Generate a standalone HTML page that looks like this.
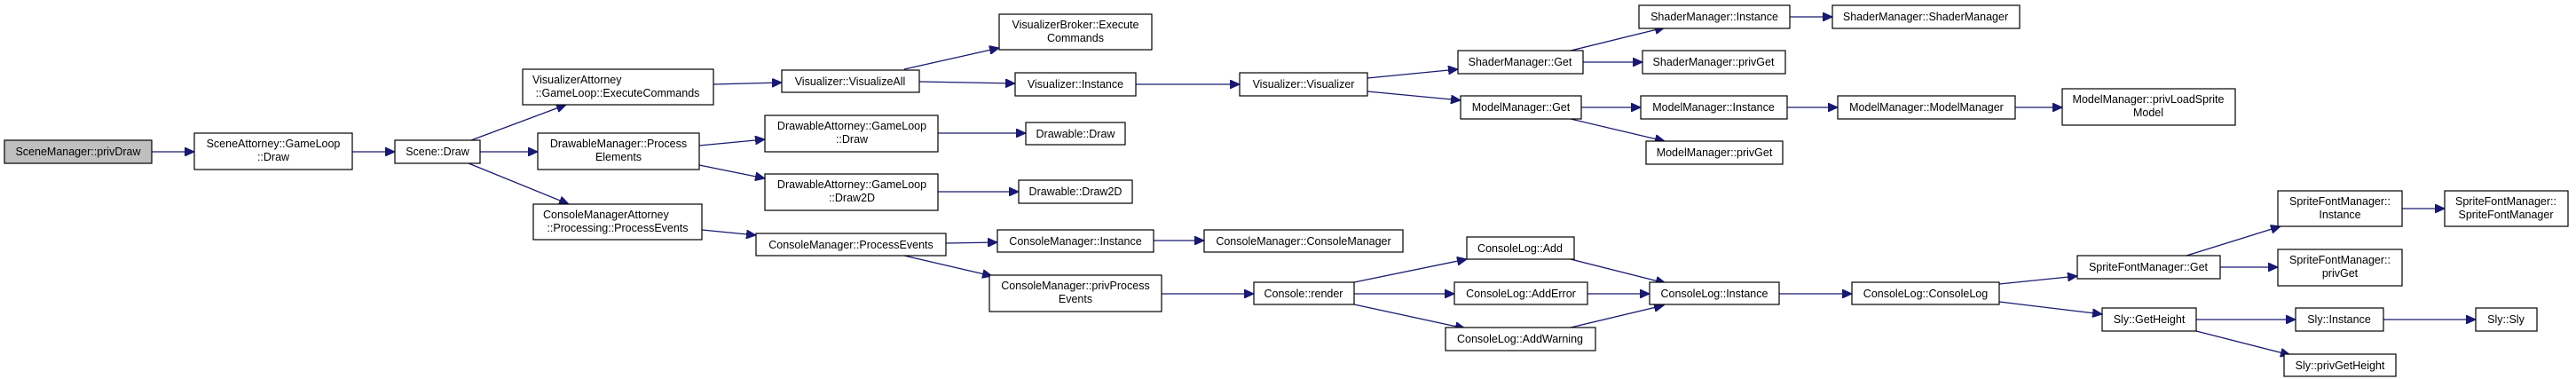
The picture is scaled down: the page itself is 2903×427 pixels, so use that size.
<!DOCTYPE html>
<html><head><meta charset="utf-8"><style>
html,body{margin:0;padding:0;background:#fff;}
svg{display:block;}
text{font-family:"Liberation Sans",Arial,sans-serif;font-size:12.5px;fill:#000;}
rect{fill:#fff;stroke:#000;stroke-width:1.2;}
line{stroke:#191970;stroke-width:1.3;}
</style></head><body>
<svg width="2903" height="427" viewBox="0 0 2903 427" xmlns="http://www.w3.org/2000/svg">
<defs><marker id="a" markerUnits="userSpaceOnUse" markerWidth="12" markerHeight="10" refX="11" refY="5" orient="auto"><path d="M0,0 L11,5 L0,10 Z" fill="#191970" stroke="#191970"/></marker></defs>
<g marker-end="url(#a)">
<line x1="171" y1="171" x2="219" y2="171"/>
<line x1="397" y1="171" x2="445" y2="171"/>
<line x1="531" y1="158" x2="638" y2="118"/>
<line x1="541" y1="171" x2="606" y2="171"/>
<line x1="528" y1="184" x2="641" y2="230"/>
<line x1="804" y1="95" x2="881" y2="93"/>
<line x1="788" y1="164" x2="862" y2="157"/>
<line x1="788" y1="186" x2="862" y2="201"/>
<line x1="791" y1="259" x2="852" y2="265"/>
<line x1="1019" y1="78" x2="1126" y2="54"/>
<line x1="1036" y1="92" x2="1144" y2="94"/>
<line x1="1280" y1="95" x2="1397" y2="95"/>
<line x1="1541" y1="88" x2="1643" y2="78"/>
<line x1="1541" y1="103" x2="1646" y2="113"/>
<line x1="1770" y1="57" x2="1876" y2="31"/>
<line x1="1784" y1="70" x2="1851" y2="70"/>
<line x1="1782" y1="121" x2="1849" y2="121"/>
<line x1="1770" y1="134" x2="1876" y2="159"/>
<line x1="1057" y1="150" x2="1156" y2="150"/>
<line x1="1057" y1="216" x2="1148" y2="216"/>
<line x1="1066" y1="274" x2="1124" y2="273"/>
<line x1="1019" y1="288" x2="1118" y2="311"/>
<line x1="1300" y1="271" x2="1357" y2="271"/>
<line x1="1309" y1="331" x2="1413" y2="331"/>
<line x1="1526" y1="318" x2="1653" y2="292"/>
<line x1="1526" y1="331" x2="1639" y2="331"/>
<line x1="1526" y1="343" x2="1651" y2="370"/>
<line x1="1770" y1="292" x2="1877" y2="319"/>
<line x1="1789" y1="331" x2="1859" y2="331"/>
<line x1="1770" y1="369" x2="1875" y2="344"/>
<line x1="2017" y1="19" x2="2065" y2="19"/>
<line x1="2014" y1="121" x2="2071" y2="121"/>
<line x1="2271" y1="121" x2="2324" y2="121"/>
<line x1="2005" y1="331" x2="2087" y2="331"/>
<line x1="2253" y1="320" x2="2341" y2="311"/>
<line x1="2253" y1="340" x2="2369" y2="354"/>
<line x1="2464" y1="288" x2="2570" y2="255"/>
<line x1="2502" y1="301" x2="2567" y2="301"/>
<line x1="2707" y1="235" x2="2755" y2="235"/>
<line x1="2475" y1="360" x2="2587" y2="360"/>
<line x1="2686" y1="360" x2="2790" y2="360"/>
<line x1="2475" y1="373" x2="2581" y2="400"/>
</g>
<g text-anchor="middle">
<rect x="5" y="158" width="166" height="26" style="fill:#bfbfbf"/><text x="88" y="175">SceneManager::privDraw</text>
<rect x="219" y="150" width="178" height="41"/><text x="308" y="166">SceneAttorney::GameLoop</text><text x="308" y="181">::Draw</text>
<rect x="445" y="158" width="96" height="26"/><text x="493" y="175">Scene::Draw</text>
<rect x="589" y="78" width="215" height="40"/><text x="590" y="94" text-anchor="start" dx="10">VisualizerAttorney</text><text x="696" y="109">::GameLoop::ExecuteCommands</text>
<rect x="606" y="150" width="182" height="41"/><text x="697" y="166">DrawableManager::Process</text><text x="697" y="181">Elements</text>
<rect x="601" y="230" width="190" height="40"/><text x="612" y="246" text-anchor="start">ConsoleManagerAttorney</text><text x="696" y="261">::Processing::ProcessEvents</text>
<rect x="881" y="79" width="155" height="25"/><text x="958" y="96">Visualizer::VisualizeAll</text>
<rect x="862" y="130" width="195" height="41"/><text x="960" y="146">DrawableAttorney::GameLoop</text><text x="960" y="161">::Draw</text>
<rect x="862" y="196" width="195" height="41"/><text x="960" y="212">DrawableAttorney::GameLoop</text><text x="960" y="227">::Draw2D</text>
<rect x="852" y="263" width="214" height="25"/><text x="959" y="280">ConsoleManager::ProcessEvents</text>
<rect x="1126" y="16" width="172" height="40"/><text x="1212" y="32">VisualizerBroker::Execute</text><text x="1212" y="47">Commands</text>
<rect x="1144" y="82" width="136" height="26"/><text x="1212" y="99">Visualizer::Instance</text>
<rect x="1397" y="82" width="144" height="26"/><text x="1469" y="99">Visualizer::Visualizer</text>
<rect x="1643" y="57" width="141" height="26"/><text x="1713" y="74">ShaderManager::Get</text>
<rect x="1646" y="108" width="136" height="26"/><text x="1714" y="125">ModelManager::Get</text>
<rect x="1847" y="6" width="170" height="26"/><text x="1932" y="23">ShaderManager::Instance</text>
<rect x="1851" y="57" width="161" height="26"/><text x="1931" y="74">ShaderManager::privGet</text>
<rect x="1849" y="108" width="165" height="26"/><text x="1931" y="125">ModelManager::Instance</text>
<rect x="1855" y="159" width="154" height="26"/><text x="1932" y="176">ModelManager::privGet</text>
<rect x="1156" y="138" width="112" height="25"/><text x="1212" y="155">Drawable::Draw</text>
<rect x="1148" y="203" width="128" height="26"/><text x="1212" y="220">Drawable::Draw2D</text>
<rect x="1124" y="259" width="176" height="25"/><text x="1212" y="276">ConsoleManager::Instance</text>
<rect x="1357" y="259" width="224" height="25"/><text x="1469" y="276">ConsoleManager::ConsoleManager</text>
<rect x="1115" y="310" width="194" height="41"/><text x="1212" y="326">ConsoleManager::privProcess</text><text x="1212" y="341">Events</text>
<rect x="1413" y="318" width="113" height="25"/><text x="1469" y="335">Console::render</text>
<rect x="1653" y="267" width="121" height="25"/><text x="1713" y="284">ConsoleLog::Add</text>
<rect x="1639" y="318" width="150" height="25"/><text x="1714" y="335">ConsoleLog::AddError</text>
<rect x="1629" y="369" width="169" height="26"/><text x="1713" y="386">ConsoleLog::AddWarning</text>
<rect x="1859" y="318" width="146" height="25"/><text x="1932" y="335">ConsoleLog::Instance</text>
<rect x="2065" y="6" width="211" height="26"/><text x="2170" y="23">ShaderManager::ShaderManager</text>
<rect x="2071" y="108" width="200" height="26"/><text x="2171" y="125">ModelManager::ModelManager</text>
<rect x="2324" y="100" width="195" height="41"/><text x="2421" y="116">ModelManager::privLoadSprite</text><text x="2421" y="131">Model</text>
<rect x="2567" y="215" width="140" height="40"/><text x="2637" y="231">SpriteFontManager::</text><text x="2637" y="246">Instance</text>
<rect x="2755" y="215" width="139" height="40"/><text x="2824" y="231">SpriteFontManager::</text><text x="2824" y="246">SpriteFontManager</text>
<rect x="2341" y="288" width="161" height="26"/><text x="2421" y="305">SpriteFontManager::Get</text>
<rect x="2567" y="281" width="140" height="41"/><text x="2637" y="297">SpriteFontManager::</text><text x="2637" y="312">privGet</text>
<rect x="2087" y="318" width="166" height="25"/><text x="2170" y="335">ConsoleLog::ConsoleLog</text>
<rect x="2369" y="347" width="106" height="26"/><text x="2422" y="364">Sly::GetHeight</text>
<rect x="2587" y="347" width="99" height="26"/><text x="2636" y="364">Sly::Instance</text>
<rect x="2790" y="347" width="69" height="26"/><text x="2824" y="364">Sly::Sly</text>
<rect x="2574" y="399" width="126" height="25"/><text x="2637" y="416">Sly::privGetHeight</text>
</g>
</svg>
</body></html>
